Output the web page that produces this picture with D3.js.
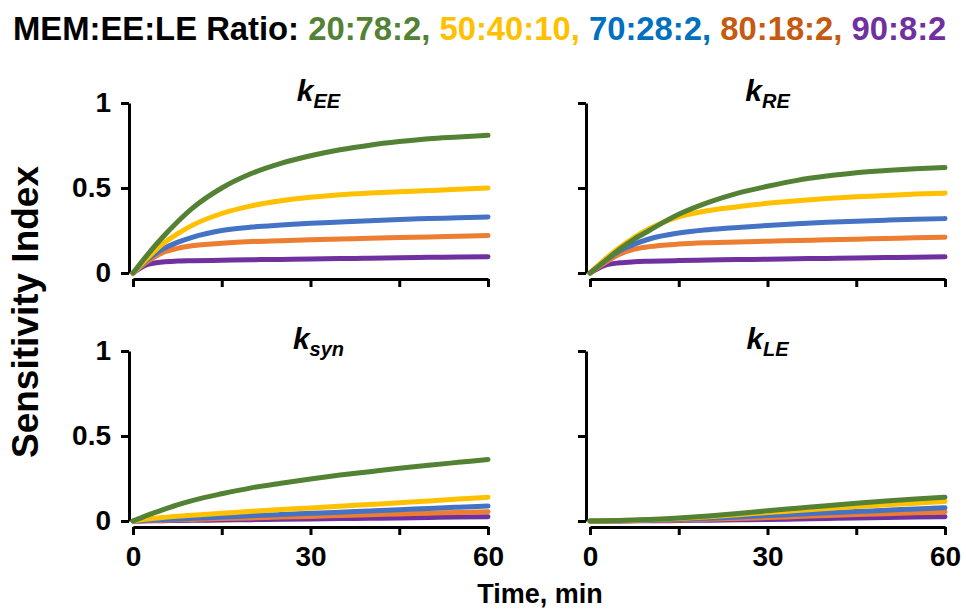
<!DOCTYPE html>
<html>
<head>
<meta charset="utf-8">
<script src="https://cdn.jsdelivr.net/npm/d3@7"></script>
<style>
  body { margin: 0; background: #fff; }
  text { font-family: Arial, "Liberation Sans", sans-serif; font-weight: bold; }
</style>
</head>
<body>
<div id="chart"></div>
<script>
// time points (min)
var times = [0, 2.5, 5, 7.5, 10, 15, 20, 25, 30, 35, 40, 45, 50, 55, 60];

// MEM:EE:LE ratios, in series order
var ratios = ["20:78:2", "50:40:10", "70:28:2", "80:18:2", "90:8:2"];
var lineColors = ["#548235", "#FFC000", "#4472C4", "#ED7D31", "#7030A0"];
var labelColors = ["#538135", "#FFC000", "#0070C0", "#C55A11", "#7030A0"];

// sensitivity index, one row per ratio
var kEE = [
  [0, 0.11, 0.21, 0.30, 0.38, 0.50, 0.585, 0.645, 0.69, 0.725, 0.752, 0.773, 0.79, 0.80, 0.81],
  [0, 0.09, 0.17, 0.23, 0.28, 0.35, 0.395, 0.425, 0.445, 0.46, 0.47, 0.478, 0.485, 0.492, 0.50],
  [0, 0.08, 0.14, 0.18, 0.21, 0.25, 0.27, 0.282, 0.292, 0.30, 0.308, 0.315, 0.32, 0.325, 0.33],
  [0, 0.07, 0.12, 0.145, 0.16, 0.175, 0.185, 0.19, 0.195, 0.20, 0.205, 0.209, 0.212, 0.216, 0.22],
  [0, 0.05, 0.065, 0.07, 0.072, 0.075, 0.078, 0.08, 0.082, 0.085, 0.087, 0.09, 0.092, 0.094, 0.096]
];
var kRE = [
  [0, 0.07, 0.14, 0.20, 0.25, 0.345, 0.415, 0.47, 0.51, 0.545, 0.57, 0.59, 0.603, 0.613, 0.62],
  [0, 0.08, 0.15, 0.21, 0.26, 0.33, 0.368, 0.39, 0.41, 0.425, 0.438, 0.448, 0.456, 0.464, 0.47],
  [0, 0.07, 0.13, 0.17, 0.20, 0.235, 0.255, 0.268, 0.28, 0.29, 0.298, 0.305, 0.311, 0.316, 0.32],
  [0, 0.06, 0.11, 0.14, 0.155, 0.17, 0.178, 0.183, 0.187, 0.191, 0.195, 0.199, 0.203, 0.207, 0.21],
  [0, 0.045, 0.06, 0.066, 0.069, 0.073, 0.076, 0.079, 0.081, 0.084, 0.086, 0.088, 0.091, 0.093, 0.095]
];
var ksyn = [
  [0, 0.035, 0.065, 0.095, 0.12, 0.16, 0.195, 0.222, 0.247, 0.27, 0.29, 0.31, 0.328, 0.345, 0.362],
  [0, 0.012, 0.02, 0.028, 0.034, 0.045, 0.057, 0.067, 0.077, 0.087, 0.097, 0.107, 0.118, 0.129, 0.14],
  [0, 0.004, 0.008, 0.012, 0.016, 0.023, 0.031, 0.038, 0.045, 0.052, 0.059, 0.066, 0.074, 0.081, 0.088],
  [0, 0.002, 0.005, 0.007, 0.009, 0.014, 0.018, 0.023, 0.027, 0.032, 0.037, 0.041, 0.046, 0.05, 0.055],
  [0, 0.001, 0.002, 0.003, 0.004, 0.006, 0.008, 0.010, 0.012, 0.014, 0.016, 0.018, 0.021, 0.023, 0.025]
];
var kLE = [
  [0, 0.001, 0.003, 0.006, 0.009, 0.018, 0.03, 0.044, 0.06, 0.075, 0.09, 0.104, 0.117, 0.129, 0.14],
  [0, 0.001, 0.003, 0.005, 0.008, 0.015, 0.025, 0.037, 0.05, 0.062, 0.074, 0.085, 0.095, 0.105, 0.115],
  [0, 0.001, 0.002, 0.003, 0.005, 0.01, 0.016, 0.024, 0.032, 0.04, 0.048, 0.056, 0.063, 0.071, 0.078],
  [0, 0, 0.001, 0.002, 0.003, 0.006, 0.01, 0.015, 0.02, 0.026, 0.032, 0.038, 0.043, 0.048, 0.053],
  [0, 0, 0, 0.001, 0.001, 0.003, 0.005, 0.007, 0.009, 0.012, 0.015, 0.018, 0.02, 0.023, 0.025]
];

var panelNames = [["k", "EE"], ["k", "RE"], ["k", "syn"], ["k", "LE"]];
var panelData = [kEE, kRE, ksyn, kLE];
var xTicks = [0, 15, 30, 45, 60];
var xLabels = [0, 30, 60];
var yTicks = [0, 0.5, 1];

var width = 966, height = 611;

var svg = d3.select("#chart").append("svg")
  .attr("width", width)
  .attr("height", height);

// title
var title = svg.append("text")
  .attr("x", 13)
  .attr("y", 40)
  .style("font-size", "32.8px");
title.append("tspan").attr("fill", "#000").text("MEM:EE:LE Ratio: ");
ratios.forEach(function(r, i) {
  title.append("tspan")
    .attr("fill", labelColors[i])
    .text(r + (i < ratios.length - 1 ? ", " : ""));
});

// panel frames: [left, right] x ranges, [bottom, top] y ranges
var colX = [[133, 488], [590, 945]];
var rowY = [[273, 103], [521, 351]];

var line = d3.line().curve(d3.curveMonotoneX);

panelData.forEach(function(series, p) {
  var col = p % 2, row = Math.floor(p / 2);
  var x = d3.scaleLinear().domain([0, 60]).range(colX[col]);
  var y = d3.scaleLinear().domain([0, 1]).range(rowY[row]);
  var g = svg.append("g");

  // y axis
  var yAxis = d3.axisLeft(y).tickValues(yTicks).tickSize(8).tickSizeOuter(0).tickPadding(10)
    .tickFormat(col == 0 ? d3.format("") : function() { return ""; });
  var ya = g.append("g").attr("transform", "translate(" + (colX[col][0] - 4) + ",0)").call(yAxis);

  // x axis
  var xAxis = d3.axisBottom(x).tickValues(xTicks).tickSize(8).tickSizeOuter(0).tickPadding(11)
    .tickFormat(function(d) { return (row == 1 && xLabels.indexOf(d) >= 0) ? d : ""; });
  var xa = g.append("g").attr("transform", "translate(0," + (rowY[row][0] + 6) + ")").call(xAxis);

  [ya, xa].forEach(function(a) {
    a.selectAll("path, line").attr("stroke", "#000").attr("stroke-width", 3);
    a.selectAll("text").attr("fill", "#000").style("font-size", "28px").style("font-family", "Arial, 'Liberation Sans', sans-serif");
  });

  // curves, green on top
  for (var s = series.length - 1; s >= 0; s--) {
    g.append("path")
      .attr("d", line(times.map(function(t, i) { return [x(t), y(series[s][i])]; })))
      .attr("fill", "none")
      .attr("stroke", lineColors[s])
      .attr("stroke-width", 5)
      .attr("stroke-linecap", "round");
  }

  // panel title
  var pt = g.append("text")
    .attr("x", (colX[col][0] + colX[col][1]) / 2 + (col == 0 ? 8 : 0))
    .attr("y", rowY[row][1] - 2)
    .attr("text-anchor", "middle")
    .style("font-style", "italic");
  pt.append("tspan").style("font-size", "30px").text(panelNames[p][0]);
  pt.append("tspan").style("font-size", "20px").attr("dy", 7).text(panelNames[p][1]);
});

// axis titles
svg.append("text")
  .attr("transform", "translate(38,312) rotate(-90)")
  .attr("text-anchor", "middle")
  .style("font-size", "37px")
  .text("Sensitivity Index");

svg.append("text")
  .attr("x", 540)
  .attr("y", 603)
  .attr("text-anchor", "middle")
  .style("font-size", "27px")
  .text("Time, min");
</script>
</body>
</html>
